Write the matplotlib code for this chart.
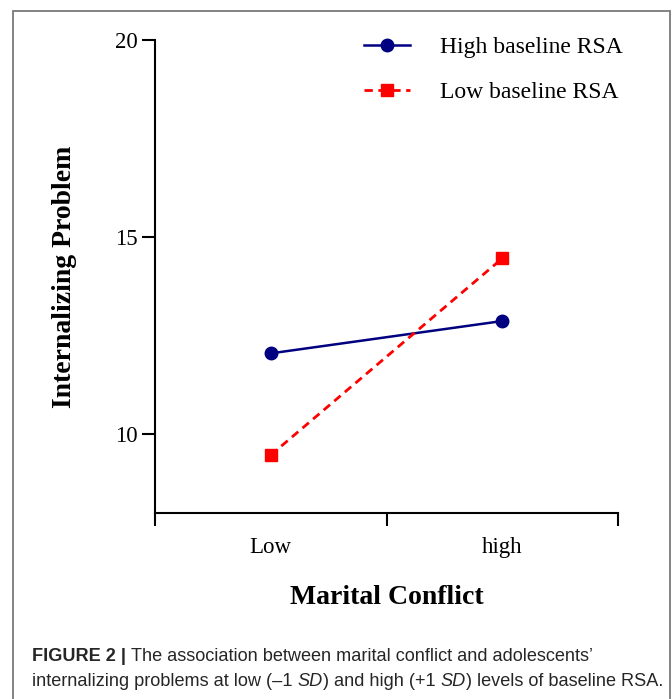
import matplotlib
matplotlib.use('Agg')
import matplotlib.pyplot as plt
from matplotlib.patches import Rectangle

# values
groups = ['Low', 'high']
high_rsa = [12.05, 12.87]
low_rsa = [9.47, 14.46]
series_names = ['High baseline RSA', 'Low baseline RSA']
yticks = [10, 15, 20]

serif = ['Liberation Serif', 'DejaVu Serif']
sans = ['Liberation Sans', 'DejaVu Sans']

fig = plt.figure(figsize=(6.72, 6.99), dpi=100)
ax = fig.add_axes([155 / 672, 1 - 513 / 699, (618 - 155) / 672, (513 - 40) / 699])

xpos = [0.5, 1.5]
ax.plot(xpos, high_rsa, color='#000080', lw=1.8, marker='o', ms=9, label=series_names[0])
ax.plot(xpos, low_rsa, color='#ff0000', lw=2.0, ls=(0, (3, 2)), marker='s', ms=9,
        label=series_names[1])

ax.set_xlim(0, 2)
ax.set_ylim(8, 20)
ax.spines['top'].set_visible(False)
ax.spines['right'].set_visible(False)
ax.spines['left'].set_bounds(8, 20)
for s in ['left', 'bottom']:
    ax.spines[s].set_linewidth(1.5)

ax.set_yticks(yticks)
ax.set_yticklabels([str(v) for v in yticks], fontfamily=serif, fontsize=16.5)
ax.set_xticks([0, 1, 2])
ax.set_xticklabels([])
ax.set_xticks(xpos, minor=True)
ax.set_xticklabels(groups, minor=True, fontfamily=serif, fontsize=16.5)
ax.tick_params(axis='both', which='major', direction='out', length=9.5, width=1.5)
ax.tick_params(axis='y', pad=3)
ax.tick_params(axis='x', which='minor', length=0, pad=17)

ax.set_ylabel('Internalizing Problem', fontfamily=serif, fontsize=20, fontweight='bold',
              labelpad=27)
ax.set_xlabel('Marital Conflict', fontfamily=serif, fontsize=20, fontweight='bold',
              labelpad=20)

leg = ax.legend(loc='upper right', bbox_to_anchor=(1.056, 1.052), frameon=False,
                prop={'family': serif, 'size': 17}, handlelength=1.95,
                handletextpad=1.25, labelspacing=1.0)

# frame round the figure panel
fig.patches.append(Rectangle((13 / 672, -0.1), (670 - 13) / 672, 0.1 + 1 - 11 / 699,
                             transform=fig.transFigure, fill=False,
                             edgecolor='#7a7a7a', lw=1.3))

# caption, drawn piece by piece to mix bold and italic
fig.canvas.draw()
renderer = fig.canvas.get_renderer()


def write_line(pieces, x, y):
    for txt, weight, style in pieces:
        t = fig.text(x, y, txt, fontfamily=sans, fontsize=13.1, color='#262626',
                     fontweight=weight, fontstyle=style, va='baseline')
        bb = t.get_window_extent(renderer)
        x += bb.width / fig.bbox.width


line1 = [('FIGURE 2 | ', 'bold', 'normal'),
         ('The association between marital conflict and adolescents\u2019', 'normal', 'normal')]
line2 = [('internalizing problems at low (\u20131 ', 'normal', 'normal'),
         ('SD', 'normal', 'italic'),
         (') and high (+1 ', 'normal', 'normal'),
         ('SD', 'normal', 'italic'),
         (') levels of baseline RSA.', 'normal', 'normal')]
write_line(line1, 32 / 672, 1 - 661 / 699)
write_line(line2, 32 / 672, 1 - 686 / 699)

fig.savefig('out.png', dpi=100)
